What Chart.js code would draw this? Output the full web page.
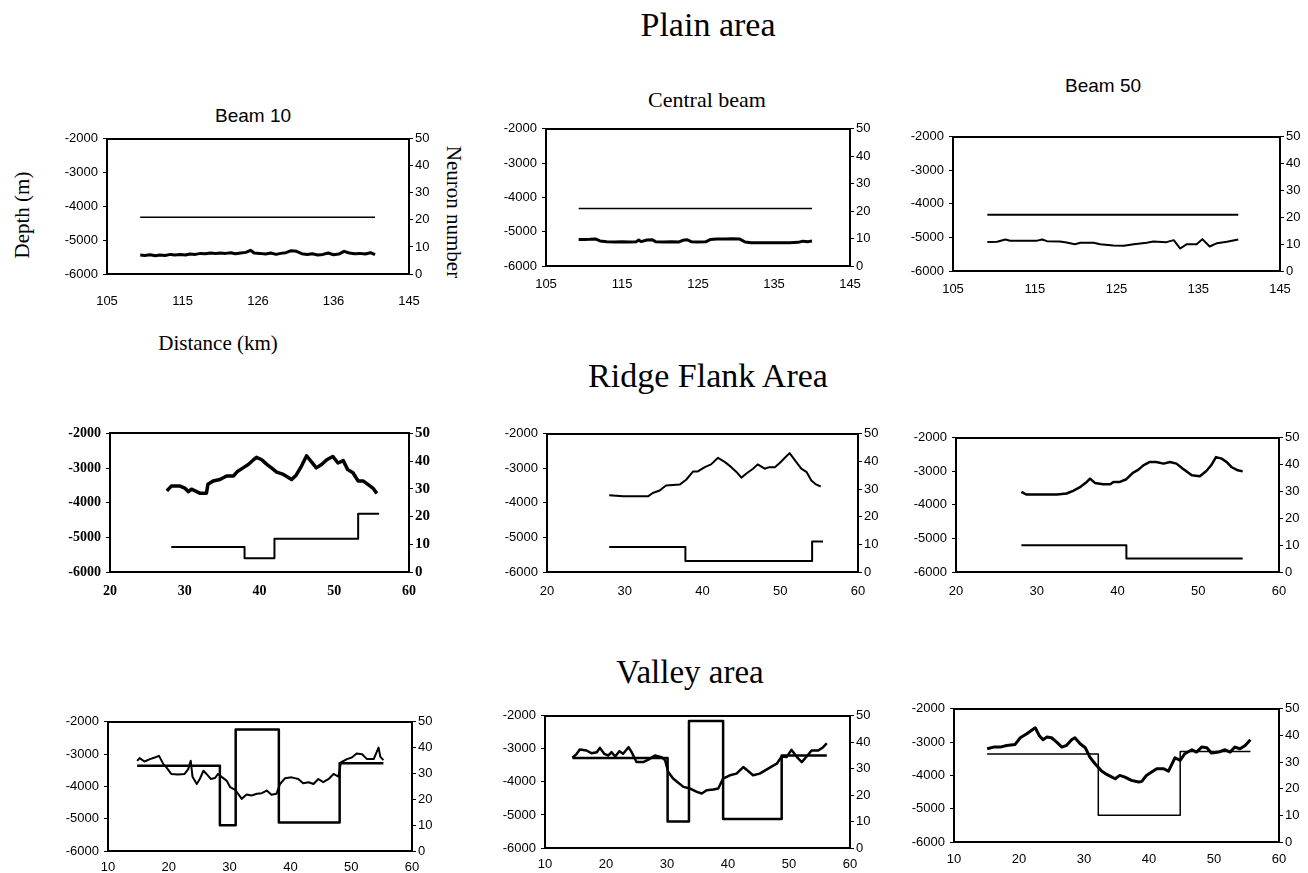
<!DOCTYPE html>
<html>
<head>
<meta charset="utf-8">
<script src="https://cdn.jsdelivr.net/npm/chart.js@4.4.0/dist/chart.umd.min.js"></script>
<style>
html, body { margin:0; padding:0; background:#fff; overflow:hidden; }
body { width:1308px; height:873px; position:relative; }
.lbl { position:absolute; white-space:nowrap; color:#000; transform:translate(-50%,-50%); line-height:1; }
.serif { font-family:"Liberation Serif","DejaVu Serif",serif; }
.sans { font-family:"Liberation Sans",Arial,sans-serif; }
canvas { position:absolute; }
</style>
</head>
<body>
<div class="lbl serif" style="left:708px;top:25px;font-size:34px">Plain area</div>
<div class="lbl serif" style="left:708px;top:376px;font-size:34px">Ridge Flank Area</div>
<div class="lbl serif" style="left:690px;top:672px;font-size:33px">Valley area</div>
<div class="lbl serif" style="left:218px;top:343px;font-size:21px">Distance (km)</div>
<div class="lbl serif" style="left:22px;top:215px;font-size:21px;transform:translate(-50%,-50%) rotate(-90deg)">Depth (m)</div>
<div class="lbl serif" style="left:453px;top:212px;font-size:21px;transform:translate(-50%,-50%) rotate(90deg)">Neuron number</div>
<div class="lbl sans" style="left:253px;top:115px;font-size:19px">Beam 10</div>
<div class="lbl serif" style="left:707px;top:100px;font-size:22px">Central beam</div>
<div class="lbl sans" style="left:1103px;top:85px;font-size:19px">Beam 50</div>

<canvas id="p1"></canvas><canvas id="p2"></canvas><canvas id="p3"></canvas>
<canvas id="p4"></canvas><canvas id="p5"></canvas><canvas id="p6"></canvas>
<canvas id="p7"></canvas><canvas id="p8"></canvas><canvas id="p9"></canvas>

<script>
// axis ticks
const depthTicks = [-6000, -5000, -4000, -3000, -2000];
const neuronTicks = [0, 10, 20, 30, 40, 50];
const plainTicks = [105, 115, 125, 135, 145];
const beam10Labels = ['105', '115', '126', '136', '145'];
const plainLabels = ['105', '115', '125', '135', '145'];
const ridgeTicks = [20, 30, 40, 50, 60];
const valleyTicks = [10, 20, 30, 40, 50, 60];

// Plain area - beam 10
const plainB10Dist = [109.4, 110, 110.7, 111.4, 112, 112.7, 113.4, 114, 114.7, 115.4, 116, 116.7, 117.4, 118, 118.7, 119.4, 120, 120.7, 121.4, 122, 122.7, 123.4, 124, 124.5, 125.2, 126, 126.7, 127.4, 128, 128.7, 129.4, 130.1, 130.8, 131.5, 132.2, 132.9, 133.6, 134.3, 135, 135.7, 136.4, 137.1, 137.8, 138.5, 139.2, 139.9, 140.5];
const plainB10Depth = [-5440, -5450, -5430, -5460, -5440, -5450, -5420, -5440, -5420, -5440, -5410, -5420, -5390, -5400, -5380, -5390, -5380, -5390, -5370, -5400, -5380, -5360, -5300, -5380, -5390, -5410, -5380, -5420, -5390, -5370, -5310, -5330, -5400, -5420, -5400, -5440, -5420, -5380, -5430, -5410, -5330, -5380, -5400, -5390, -5410, -5370, -5430];
const plainB10StepX = [109.4, 140.5];
const plainB10StepN = [21, 21];

// Plain area - central beam
const plainCbDist = [109.3, 110, 110.8, 111.5, 112.1, 113, 114, 115, 116, 116.9, 117.2, 117.5, 118.3, 119, 119.4, 120.5, 121.5, 122.5, 123, 123.6, 124.1, 125, 126, 126.6, 127.5, 128.5, 129.5, 130.5, 131.2, 132, 133, 134, 135, 136, 137, 138.2, 138.8, 139.5, 140];
const plainCbDepth = [-5230, -5225, -5220, -5210, -5270, -5295, -5300, -5295, -5300, -5290, -5240, -5290, -5240, -5235, -5290, -5300, -5295, -5300, -5250, -5235, -5290, -5300, -5295, -5230, -5210, -5210, -5205, -5215, -5300, -5325, -5320, -5325, -5320, -5325, -5320, -5310, -5275, -5290, -5270];
const plainCbStepX = [109.3, 140];
const plainCbStepN = [21, 21];

// Plain area - beam 50
const plainB50Dist = [109.2, 110.4, 111.4, 112, 113.6, 115.3, 115.9, 116.5, 118.1, 118.9, 119.9, 120.6, 122.2, 123, 124.6, 125.9, 127.1, 128.7, 129.5, 131.1, 132, 132.8, 133.6, 134.8, 135.5, 136.4, 137.3, 138.5, 139.9];
const plainB50Depth = [-5135, -5130, -5060, -5100, -5100, -5095, -5060, -5110, -5120, -5150, -5200, -5160, -5160, -5200, -5240, -5250, -5200, -5160, -5120, -5140, -5080, -5330, -5200, -5200, -5050, -5270, -5170, -5130, -5060];
const plainB50StepX = [109.2, 139.9];
const plainB50StepN = [21, 21];

// Ridge flank - beam 10
const ridgeB10Dist = [27.6, 28.2, 29.4, 30, 30.5, 30.9, 31.6, 32, 32.9, 33.1, 33.8, 34.7, 35.6, 36.5, 37.1, 37.8, 38.5, 39.2, 39.6, 40.3, 40.9, 41.6, 42.3, 43.2, 44.3, 44.9, 45.6, 46.3, 46.9, 47.6, 48.3, 49, 49.8, 50.5, 51.2, 51.8, 52.5, 53.2, 53.9, 54.5, 55.2, 55.7];
const ridgeB10Depth = [-3660, -3520, -3520, -3580, -3680, -3610, -3680, -3725, -3725, -3470, -3375, -3330, -3230, -3230, -3090, -2995, -2900, -2760, -2690, -2760, -2880, -2995, -3120, -3185, -3330, -3205, -2950, -2645, -2805, -2995, -2900, -2760, -2665, -2855, -2785, -3045, -3135, -3375, -3375, -3470, -3585, -3735];
const ridgeB10StepX = [28.2, 38, 42, 53.2, 56];
const ridgeB10StepN = [9, 5, 12, 21, 21];

// Ridge flank - central beam
const ridgeCbDist = [28, 29.8, 33, 33.6, 34.5, 35.3, 37.1, 37.9, 38.8, 39.4, 40.3, 41.1, 42, 42.9, 43.7, 44.4, 45, 45.6, 46.5, 47.1, 48, 48.6, 49.3, 49.9, 50.6, 51.2, 51.9, 52.7, 53.4, 54, 54.6, 55.2];
const ridgeCbDepth = [-3780, -3810, -3810, -3715, -3640, -3495, -3465, -3330, -3090, -3090, -2965, -2885, -2695, -2820, -2965, -3110, -3270, -3155, -3010, -2885, -3010, -2965, -2965, -2850, -2695, -2560, -2770, -3010, -3110, -3350, -3465, -3525];
const ridgeCbStepX = [28, 37.8, 54.1, 55.5];
const ridgeCbStepN = [9, 4, 11, 11];

// Ridge flank - beam 50
const ridgeB50Dist = [28.1, 28.7, 30, 31.2, 32.5, 33.7, 34.5, 35.3, 36.2, 36.6, 37.2, 38.2, 39.1, 39.5, 40.3, 41.1, 41.9, 42.6, 43.2, 44, 44.8, 45.7, 46.5, 47.3, 48.1, 49.2, 50.2, 51, 51.6, 52.2, 52.9, 53.5, 54.1, 54.9, 55.5];
const ridgeB50Depth = [-3610, -3690, -3690, -3690, -3690, -3660, -3580, -3480, -3315, -3215, -3345, -3385, -3385, -3315, -3315, -3235, -3045, -2950, -2820, -2720, -2720, -2770, -2720, -2770, -2920, -3115, -3145, -2990, -2820, -2575, -2620, -2720, -2870, -2970, -3000];
const ridgeB50StepX = [28.1, 41.1, 55.5];
const ridgeB50StepN = [10, 5, 5];

// Valley - beam 10
const valleyB10Dist = [14.8, 15.2, 16, 16.9, 17.7, 18.4, 19.1, 19.6, 20.4, 21.5, 22.6, 23.2, 23.6, 23.9, 24.6, 25.1, 25.7, 26.2, 26.9, 27.6, 28.1, 28.8, 29.5, 30.1, 30.9, 31.4, 32, 32.8, 33.6, 34.5, 35.3, 36.1, 36.9, 37.7, 38.3, 39.1, 40.2, 41.3, 42.1, 43, 43.8, 44.6, 45.4, 46.3, 47.1, 47.9, 48.3, 49.3, 50.1, 50.9, 51.8, 52.6, 53.7, 54.5, 54.8, 55.3];
const valleyB10Depth = [-3210, -3125, -3230, -3155, -3105, -3055, -3310, -3410, -3615, -3635, -3615, -3465, -3205, -3700, -3925, -3770, -3515, -3615, -3770, -3740, -3615, -3720, -3820, -4025, -4105, -4230, -4385, -4250, -4280, -4230, -4210, -4130, -4260, -4230, -3925, -3750, -3720, -3770, -3905, -3870, -3925, -3770, -3870, -3770, -3615, -3700, -3260, -3155, -3105, -2980, -3005, -3155, -3155, -2800, -3085, -3185];
const valleyB10StepX = [14.8, 28.4, 31, 38.1, 48.1, 55.3];
const valleyB10StepN = [33, 10, 47, 11, 34, 34];

// Valley - central beam
const valleyCbDist = [14.5, 15.2, 15.7, 16.8, 17.6, 18.5, 19, 19.7, 20.4, 20.9, 21.5, 22.2, 22.8, 23.7, 24.2, 25, 26.1, 27.2, 28, 29.1, 29.7, 30.2, 31, 31.9, 32.7, 33.8, 34.9, 35.7, 36.5, 37.6, 38.4, 39.2, 40.3, 41.4, 42.5, 43.3, 44.1, 45.2, 46.1, 47.2, 48, 48.8, 49.6, 50.4, 51.3, 52.1, 52.9, 53.7, 54.8, 55.6, 56.2];
const valleyCbDepth = [-3270, -3150, -3020, -3050, -3130, -3100, -2970, -3150, -3200, -3100, -3230, -3070, -3150, -2950, -3100, -3400, -3400, -3300, -3200, -3250, -3350, -3700, -3900, -4030, -4150, -4200, -4300, -4350, -4250, -4230, -4200, -3900, -3800, -3750, -3550, -3670, -3800, -3750, -3650, -3530, -3450, -3230, -3250, -3030, -3250, -3400, -3230, -3050, -3050, -2950, -2830];
const valleyCbStepX = [14.5, 30.1, 33.6, 39.2, 48.8, 56.2];
const valleyCbStepN = [34, 10, 48, 11, 35, 35];

// Valley - beam 50
const valleyB50Dist = [15.1, 16.1, 17.1, 18.1, 19.4, 20.2, 21.2, 21.9, 22.5, 23.1, 23.7, 24.3, 25, 25.8, 26.6, 27.3, 28.1, 28.6, 29.4, 30.2, 30.9, 31.7, 32.7, 33.5, 34.3, 34.8, 35.5, 36.3, 37.3, 38.4, 38.9, 39.6, 40.4, 41.2, 42.2, 43, 44, 44.8, 45.5, 46.6, 47.3, 48.1, 48.9, 49.6, 50.7, 51.7, 52.5, 53.2, 54, 54.8, 55.6];
const valleyB50Depth = [-3200, -3150, -3150, -3100, -3070, -2870, -2750, -2650, -2570, -2800, -2930, -2850, -2870, -3000, -3150, -3100, -2930, -2870, -3050, -3170, -3450, -3650, -3870, -3970, -4050, -4100, -4000, -4050, -4150, -4200, -4180, -4000, -3900, -3800, -3800, -3870, -3470, -3550, -3350, -3230, -3300, -3150, -3170, -3330, -3300, -3230, -3300, -3150, -3200, -3100, -2930];
const valleyB50StepX = [15.1, 32.2, 44.8, 55.6];
const valleyB50StepN = [33, 10, 34, 34];

const padL = 62, padR = 40, padT = 12, padB = 40;

function makePanel(id, o) {
    let cv = document.getElementById(id);
    let w = o.box[1] - o.box[0], h = o.box[3] - o.box[2];
    cv.width = w + padL + padR;
    cv.height = h + padT + padB;
    cv.style.left = (o.box[0] - padL) + 'px';
    cv.style.top = (o.box[2] - padT) + 'px';

    let fam = o.serif ? 'Liberation Serif' : 'Liberation Sans';
    let tickFont = { family: fam, size: o.serif ? 14 : 13, weight: o.serif ? 'bold' : 'normal' };
    let rightFont = { family: fam, size: o.serif ? 15 : 13, weight: o.serif ? 'bold' : 'normal' };
    let frame = { display: true, color: '#000', width: 2 };

    new Chart(cv, {
        type: 'line',
        data: {
            datasets: [{
                data: o.dist.map((x, i) => ({ x: x, y: o.depth[i] })),
                yAxisID: 'y',
                borderWidth: o.dw
            }, {
                data: o.stepX.map((x, i) => ({ x: x, y: o.stepN[i] })),
                yAxisID: 'y1',
                stepped: 'before',
                borderWidth: o.nw
            }]
        },
        options: {
            responsive: false,
            animation: false,
            layout: { padding: { top: padT, left: 0, right: 0, bottom: 0 } },
            plugins: { legend: { display: false }, tooltip: { enabled: false } },
            elements: {
                point: { radius: 0 },
                line: { borderColor: '#000', tension: 0, fill: false, borderJoinStyle: 'round' }
            },
            scales: {
                x: {
                    type: 'linear', position: 'bottom',
                    min: o.xt[0], max: o.xt[o.xt.length - 1],
                    afterBuildTicks: s => { s.ticks = o.xt.map(v => ({ value: v })); },
                    afterFit: s => { s.height = padB; },
                    ticks: { padding: o.xpad, font: tickFont, color: '#000', maxRotation: 0, autoSkip: false,
                             callback: (v, i) => o.xl[i] },
                    grid: { display: false, drawTicks: false },
                    border: frame
                },
                x2: {
                    type: 'linear', position: 'top',
                    afterFit: s => { s.height = 0; },
                    ticks: { display: false },
                    grid: { display: false, drawTicks: false },
                    border: frame
                },
                y: {
                    position: 'left', min: -6000, max: -2000,
                    afterBuildTicks: s => { s.ticks = depthTicks.map(v => ({ value: v })); },
                    afterFit: s => { s.width = padL; },
                    ticks: { padding: 5, font: tickFont, color: '#000', callback: v => String(v) },
                    grid: { display: true, drawOnChartArea: false, drawTicks: true, tickLength: 4, color: '#000' },
                    border: frame
                },
                y1: {
                    position: 'right', min: 0, max: 50,
                    afterBuildTicks: s => { s.ticks = neuronTicks.map(v => ({ value: v })); },
                    afterFit: s => { s.width = padR; },
                    ticks: { padding: 2, font: rightFont, color: '#000', callback: v => String(v) },
                    grid: { display: true, drawOnChartArea: false, drawTicks: true, tickLength: 4, color: '#000' },
                    border: frame
                }
            }
        }
    });
}

makePanel('p1', { box: [107, 409, 138, 274], xt: plainTicks, xl: beam10Labels, xpad: 20,
    dist: plainB10Dist, depth: plainB10Depth, stepX: plainB10StepX, stepN: plainB10StepN, dw: 3, nw: 1.5 });
makePanel('p2', { box: [546, 850, 128, 266], xt: plainTicks, xl: plainLabels, xpad: 11,
    dist: plainCbDist, depth: plainCbDepth, stepX: plainCbStepX, stepN: plainCbStepN, dw: 3, nw: 1.5 });
makePanel('p3', { box: [953, 1280, 136, 271], xt: plainTicks, xl: plainLabels, xpad: 11,
    dist: plainB50Dist, depth: plainB50Depth, stepX: plainB50StepX, stepN: plainB50StepN, dw: 2, nw: 2 });

makePanel('p4', { box: [110, 409, 432, 572], xt: ridgeTicks, xl: ridgeTicks.map(String), xpad: 11, serif: true,
    dist: ridgeB10Dist, depth: ridgeB10Depth, stepX: ridgeB10StepX, stepN: ridgeB10StepN, dw: 3.5, nw: 2 });
makePanel('p5', { box: [547, 858, 433, 572], xt: ridgeTicks, xl: ridgeTicks.map(String), xpad: 12,
    dist: ridgeCbDist, depth: ridgeCbDepth, stepX: ridgeCbStepX, stepN: ridgeCbStepN, dw: 2, nw: 2 });
makePanel('p6', { box: [956, 1279, 437, 572], xt: ridgeTicks, xl: ridgeTicks.map(String), xpad: 12,
    dist: ridgeB50Dist, depth: ridgeB50Depth, stepX: ridgeB50StepX, stepN: ridgeB50StepN, dw: 2.5, nw: 2 });

makePanel('p7', { box: [108, 412, 721, 851], xt: valleyTicks, xl: valleyTicks.map(String), xpad: 9,
    dist: valleyB10Dist, depth: valleyB10Depth, stepX: valleyB10StepX, stepN: valleyB10StepN, dw: 2, nw: 2.5 });
makePanel('p8', { box: [545, 850, 715, 848], xt: valleyTicks, xl: valleyTicks.map(String), xpad: 9,
    dist: valleyCbDist, depth: valleyCbDepth, stepX: valleyCbStepX, stepN: valleyCbStepN, dw: 2.5, nw: 2.5 });
makePanel('p9', { box: [954, 1279, 708, 842], xt: valleyTicks, xl: valleyTicks.map(String), xpad: 10,
    dist: valleyB50Dist, depth: valleyB50Depth, stepX: valleyB50StepX, stepN: valleyB50StepN, dw: 3, nw: 1.5 });
</script>
</body>
</html>
